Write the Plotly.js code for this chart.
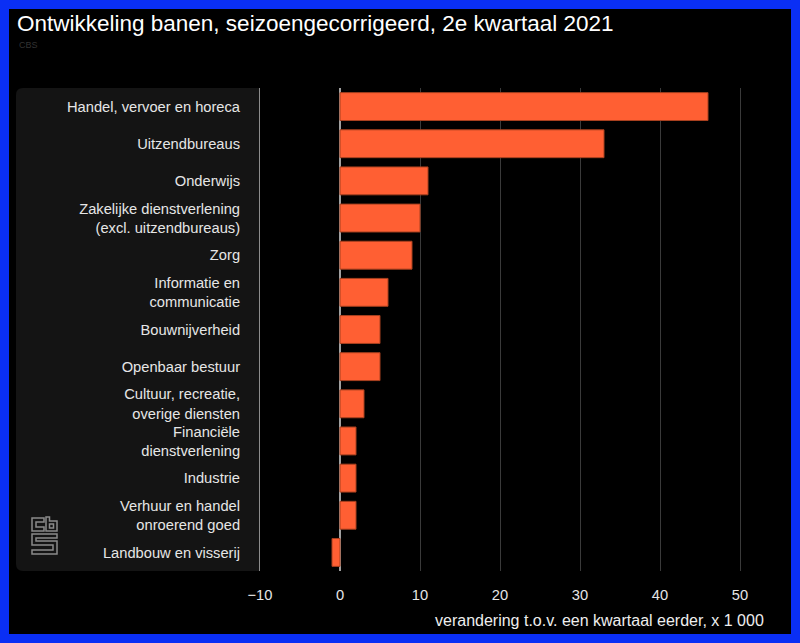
<!DOCTYPE html>
<html>
<head>
<meta charset="utf-8">
<script src="https://cdn.plot.ly/plotly-3.0.1.min.js"></script>
<style>
  html, body { margin: 0; padding: 0; background: #0a2ff5; }
  #plot { width: 800px; height: 643px; }
</style>
</head>
<body>
<div id="plot"></div>
<script>
var sectors = [
  'Handel, vervoer en horeca',
  'Uitzendbureaus',
  'Onderwijs',
  'Zakelijke dienstverlening<br>(excl. uitzendbureaus)',
  'Zorg',
  'Informatie en<br>communicatie',
  'Bouwnijverheid',
  'Openbaar bestuur',
  'Cultuur, recreatie,<br>overige diensten',
  'Financiële<br>dienstverlening',
  'Industrie',
  'Verhuur en handel<br>onroerend goed',
  'Landbouw en visserij'
];
var change = [46, 33, 11, 10, 9, 6, 5, 5, 3, 2, 2, 2, -1];
var xTicks = [-10, 0, 10, 20, 30, 40, 50];

// plot area in pixels: x 260..764, y 88..571
function px(x) { return (x - 260) / 504; }
function py(y) { return (571 - y) / 483; }
function path(pts) {
  return 'M' + pts.map(function (p) { return px(p[0]) + ',' + py(p[1]); }).join(' L') + ' Z';
}

var trace = {
  type: 'bar',
  orientation: 'h',
  y: sectors,
  x: change,
  marker: { color: '#ff5f33', line: { color: '#a8401f', width: 1 } },
  hoverinfo: 'x+y'
};

var logoStyle = { color: '#8a8a8a', width: 1.5 };
var shapes = [
  // black card inside the blue frame
  { type: 'rect', xref: 'paper', yref: 'paper', layer: 'below',
    x0: px(9), x1: px(791), y0: py(634), y1: py(9),
    fillcolor: '#000', line: { width: 0 } },
  // label panel, rounded on the left
  { type: 'path', xref: 'paper', yref: 'paper', layer: 'below',
    path: 'M' + px(260) + ',' + py(88) + ' L' + px(23) + ',' + py(88) +
          ' Q' + px(16) + ',' + py(88) + ' ' + px(16) + ',' + py(95) +
          ' L' + px(16) + ',' + py(564) +
          ' Q' + px(16) + ',' + py(571) + ' ' + px(23) + ',' + py(571) +
          ' L' + px(260) + ',' + py(571) + ' Z',
    fillcolor: '#141414', line: { width: 0 } },
  // cbs logo
  { type: 'path', xref: 'paper', yref: 'paper', line: logoStyle,
    path: path([[44,518],[32,518],[32,531],[44,531],[44,527],[36,527],[36,522],[44,522]]) },
  { type: 'path', xref: 'paper', yref: 'paper', line: logoStyle,
    path: path([[46,517],[49.5,517],[49.5,521],[57,521],[57,531],[46,531]]) },
  { type: 'path', xref: 'paper', yref: 'paper', line: logoStyle,
    path: path([[49.5,524],[53.5,524],[53.5,528],[49.5,528]]) },
  { type: 'path', xref: 'paper', yref: 'paper', line: logoStyle,
    path: path([[57,534],[32,534],[32,545],[53,545],[53,550],[32,550],[32,554],[57,554],[57,541],[36,541],[36,538],[57,538]]) }
];

var layout = {
  width: 800,
  height: 643,
  margin: { l: 260, r: 36, t: 88, b: 72 },
  paper_bgcolor: '#0a2ff5',
  plot_bgcolor: 'rgba(0,0,0,0)',
  font: { family: 'Liberation Sans, Arial, sans-serif', color: '#e6e6e6', size: 14.7 },
  showlegend: false,
  bargap: 0.25,
  title: {
    text: 'Ontwikkeling banen, seizoengecorrigeerd, 2e kwartaal 2021',
    font: { size: 22.5, color: '#ffffff' },
    xref: 'container', yref: 'container',
    x: 17 / 800, xanchor: 'left',
    y: 1 - 23 / 643, yanchor: 'middle'
  },
  xaxis: {
    range: [-10, 53],
    tickvals: xTicks,
    showgrid: true,
    gridcolor: '#3a3a3a',
    gridwidth: 1,
    zeroline: true,
    zerolinecolor: '#a0a0a0',
    zerolinewidth: 2,
    showline: false,
    ticks: '',
    ticklabelstandoff: 13,
    tickfont: { size: 14.7, color: '#e6e6e6' },
    fixedrange: true
  },
  yaxis: {
    type: 'category',
    autorange: 'reversed',
    showgrid: false,
    showline: true,
    linecolor: '#8c8c8c',
    linewidth: 1,
    ticks: '',
    ticklabelstandoff: 16,
    tickfont: { size: 14.7, color: '#e6e6e6' },
    fixedrange: true
  },
  shapes: shapes,
  annotations: [
    { text: 'verandering t.o.v. een kwartaal eerder, x 1 000',
      xref: 'paper', yref: 'paper', x: px(766), y: py(620),
      xanchor: 'right', yanchor: 'middle', showarrow: false,
      font: { size: 16, color: '#eeeeee' } },
    { text: 'CBS',
      xref: 'paper', yref: 'paper', x: px(17), y: py(45),
      xanchor: 'left', yanchor: 'middle', showarrow: false,
      font: { size: 9, color: '#333333' } }
  ]
};

Plotly.newPlot('plot', [trace], layout, { displayModeBar: false, staticPlot: true });
</script>
</body>
</html>
